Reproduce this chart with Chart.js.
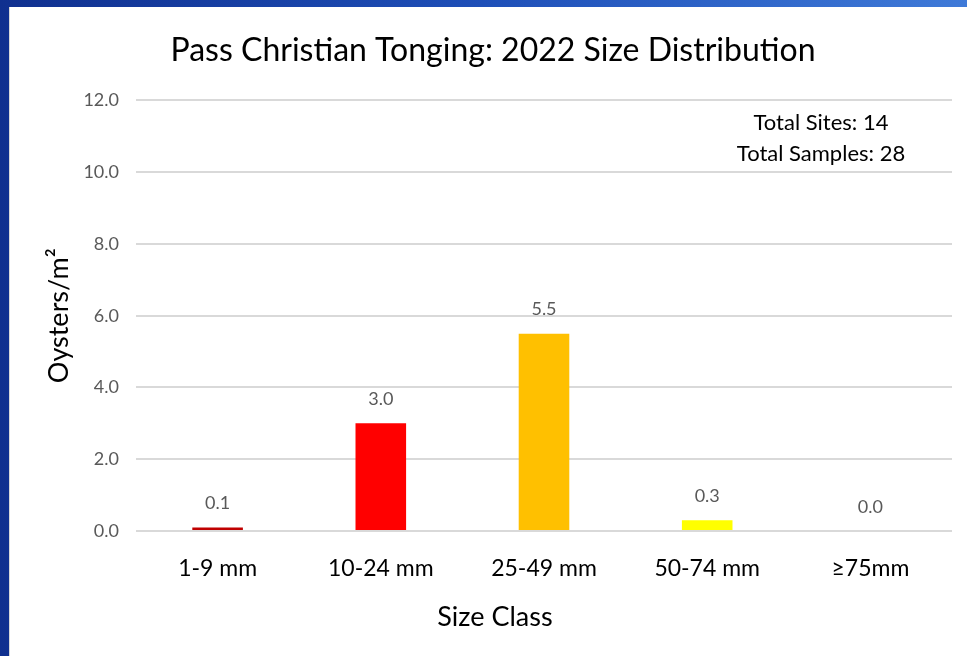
<!DOCTYPE html>
<html>
<head>
<meta charset="utf-8">
<script src="https://cdn.jsdelivr.net/npm/chart.js@4.4.0/dist/chart.umd.min.js"></script>
<style>
  html, body { margin: 0; padding: 0; }
  body {
    width: 967px; height: 656px; overflow: hidden;
    background: linear-gradient(to right, #10308f 0%, #1e4fb8 50%, #3f7ad8 100%);
    position: relative;
  }
  #panel {
    position: absolute; left: 9px; top: 7px; width: 958px; height: 649px;
    background: #ffffff; border-left: 1px solid #d8d8d8; box-sizing: border-box;
  }
  #wrap { position: absolute; left: 0; top: 0; width: 958px; height: 649px; }
</style>
</head>
<body>
<div id="panel"><div id="wrap"><canvas id="grafico"></canvas></div></div>
<script>
// Datos
const categorias = ["1-9 mm", "10-24 mm", "25-49 mm", "50-74 mm", "≥75mm"];
const densidad = [0.1, 3.0, 5.5, 0.3, 0.0];
const colores = ["#C00000", "#FF0000", "#FFC000", "#FFFF00", "#7F7F7F"];
const notas = ["Total Sites: 14", "Total Samples: 28"];
const tituloX = "Size Class";

const fuente = "Lato, 'Open Sans', sans-serif";

// etiquetas sobre las barras, notas y titulo del eje x
const etiquetas = {
  id: "etiquetas",
  afterDatasetsDraw(chart) {
    const ctx = chart.ctx;
    const meta = chart.getDatasetMeta(0);
    ctx.save();
    ctx.font = "18px " + fuente;
    ctx.fillStyle = "#595959";
    ctx.textAlign = "center";
    ctx.textBaseline = "middle";
    meta.data.forEach((bar, i) => {
      ctx.fillText(densidad[i].toFixed(1), bar.x, bar.y - 24);
    });
    const { right, top, bottom } = chart.chartArea;
    ctx.font = "22px " + fuente;
    ctx.fillStyle = "#000000";
    notas.forEach((t, i) => {
      ctx.fillText(t, right - 131, top + 23 + i * 31);
    });
    // titulo del eje x, centrado en el panel
    ctx.font = "27px " + fuente;
    ctx.fillText(tituloX, chart.width / 2 + 6, bottom + 86);
    ctx.restore();
  },
};

const ctx = document.getElementById("grafico");
const grafico = new Chart(ctx, {
  type: "bar",
  data: {
    labels: categorias,
    datasets: [
      {
        label: "Oysters/m²",
        data: densidad,
        backgroundColor: colores,
        categoryPercentage: 1,
        barPercentage: 0.31,
      },
    ],
  },
  options: {
    responsive: true,
    maintainAspectRatio: false,
    animation: false,
    layout: { padding: { left: 24, right: 16, top: 0, bottom: 0 } },
    plugins: {
      legend: { display: false },
      tooltip: { enabled: false },
      title: {
        display: true,
        text: "Pass Christian Tonging: 2022 Size Distribution",
        color: "#000000",
        font: { family: fuente, size: 32, weight: "normal" },
        padding: { top: 24, bottom: 31 },
      },
    },
    scales: {
      x: {
        grid: { display: false, drawTicks: false },
        border: { display: false },
        ticks: { color: "#000000", font: { family: fuente, size: 23 }, padding: 24 },
        afterFit: (s) => { s.height = 125; },
      },
      y: {
        min: 0,
        max: 12,
        grid: { color: "#d9d9d9", lineWidth: 2, drawTicks: false },
        border: { display: false },
        ticks: {
          stepSize: 2,
          color: "#595959",
          font: { family: fuente, size: 18 },
          padding: 17,
          callback: (v) => Number(v).toFixed(1),
        },
        title: {
          display: true,
          text: "Oysters/m²",
          color: "#000000",
          font: { family: fuente, size: 27 },
          padding: { top: 9, bottom: 0 },
        },
        afterFit: (s) => { s.width = 102; },
      },
    },
  },
  plugins: [etiquetas],
});
</script>
</body>
</html>
